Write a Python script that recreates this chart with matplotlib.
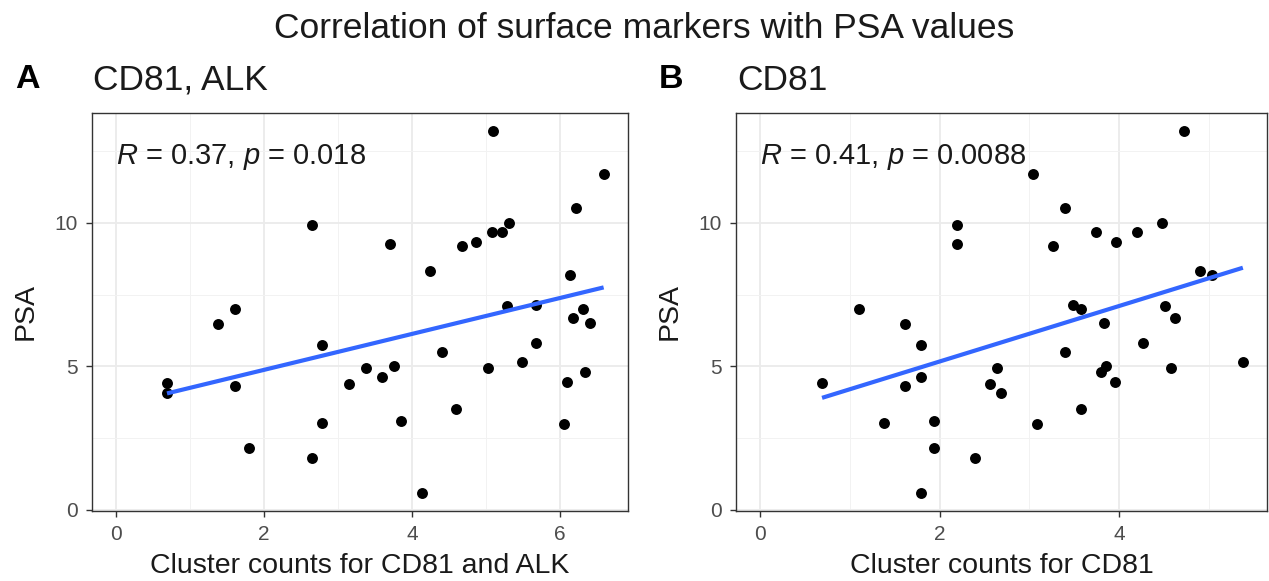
#!/usr/bin/env python3
"""Correlation of surface markers with PSA values (two scatter panels)."""

import numpy as np
import matplotlib
matplotlib.use("Agg")
import matplotlib.pyplot as plt
from matplotlib.ticker import MultipleLocator

# PSA value per sample (shared by both panels)
psa = [13.2, 11.7, 10.51, 10.0, 9.91, 9.67, 9.67, 9.33, 9.26, 9.19,
       8.32, 8.20, 7.13, 7.10, 7.01, 7.00, 6.69, 6.50, 6.46, 5.80,
       5.74, 5.51, 5.14, 5.00, 4.95, 4.93, 4.79, 4.64, 4.47, 4.43,
       4.40, 4.30, 4.07, 3.52, 3.09, 3.03, 3.00, 2.16, 1.79, 0.59]

# cluster counts for CD81 and ALK (panel A)
counts_cd81_alk = [5.10, 6.59, 6.21, 5.31, 2.64, 5.08, 5.22, 4.86, 3.70, 4.68,
                   4.24, 6.14, 5.68, 5.28, 1.60, 6.31, 6.18, 6.40, 1.38, 5.67,
                   2.78, 4.41, 5.48, 3.75, 5.02, 3.38, 6.34, 3.59, 6.10, 0.685,
                   3.14, 1.60, 0.685, 4.59, 3.85, 2.78, 6.05, 1.80, 2.64, 4.13]

# cluster counts for CD81 (panel B)
counts_cd81 = [4.72, 3.04, 3.40, 4.48, 2.19, 3.74, 4.20, 3.97, 2.19, 3.26,
               4.90, 5.04, 3.49, 4.51, 1.10, 3.58, 4.62, 3.83, 1.61, 4.27,
               1.79, 3.40, 5.38, 3.85, 4.58, 2.64, 3.80, 1.79, 3.95, 0.69,
               2.56, 1.61, 2.68, 3.58, 1.94, 1.38, 3.09, 1.94, 2.39, 1.79]

panel_tags = ["A", "B"]
panel_titles = ["CD81, ALK", "CD81"]
x_labels = ["Cluster counts for CD81 and ALK", "Cluster counts for CD81"]
cor_labels = ["$R$ = 0.37, $p$ = 0.018", "$R$ = 0.41, $p$ = 0.0088"]

W, H = 1269, 581

plt.rcParams.update({
    "font.family": ["Liberation Sans", "DejaVu Sans"],
    "mathtext.fontset": "custom",
    "mathtext.rm": "Liberation Sans",
    "mathtext.it": "Liberation Sans:italic",
})


def expand(lo, hi, frac=0.05):
    span = hi - lo
    return lo - frac * span, hi + frac * span


def draw_panel(ax, x, y, cor_text):
    x = np.asarray(x, dtype=float)
    y = np.asarray(y, dtype=float)

    ax.set_axisbelow(True)
    ax.xaxis.set_major_locator(MultipleLocator(2))
    ax.xaxis.set_minor_locator(MultipleLocator(1))
    ax.yaxis.set_major_locator(MultipleLocator(5))
    ax.yaxis.set_minor_locator(MultipleLocator(2.5))
    ax.grid(True, which="major", color="#EBEBEB", linewidth=1.3)
    ax.grid(True, which="minor", color="#F2F2F2", linewidth=0.7)
    ax.tick_params(which="minor", length=0)
    ax.tick_params(which="major", length=4, width=1.0, color="#333333",
                   labelcolor="#4D4D4D", labelsize=15, pad=6)

    ax.scatter(x, y, s=62, color="black", zorder=3, linewidths=0)

    slope, icpt = np.polyfit(x, y, 1)
    xs = np.array([x.min(), x.max()])
    ax.plot(xs, icpt + slope * xs, color="#3366FF", linewidth=3, zorder=4,
            solid_capstyle="butt")

    ax.set_xlim(*expand(0, x.max()))
    ax.set_ylim(*expand(y.min(), y.max()))

    for sp in ax.spines.values():
        sp.set_color("#333333")
        sp.set_linewidth(1.0)

    ax.text(0, 12.3, cor_text, ha="left", va="center", fontsize=21,
            color="#1A1A1A")


fig = plt.figure(figsize=(W / 100, H / 100), dpi=100)

boxes = [(92, 628), (736, 1267)]
top, bottom = 113, 511
xdata = [counts_cd81_alk, counts_cd81]

for i, (l, r) in enumerate(boxes):
    w_px = r - l
    h_px = bottom - top
    ax = fig.add_axes([l / W, 1 - bottom / H, w_px / W, h_px / H])
    draw_panel(ax, xdata[i], psa, cor_labels[i])

    ax.set_xlabel(x_labels[i], fontsize=20.5, color="#1A1A1A")
    ax.xaxis.set_label_coords(0.5, (bottom - 566) / h_px)
    ax.xaxis.label.set_va("center")
    ax.set_ylabel("PSA", fontsize=20.5, color="#1A1A1A")
    ax.yaxis.set_label_coords(-66 / w_px, 0.5)
    ax.yaxis.label.set_va("center")

    fig.text((l + 1) / W, 1 - 80 / H, panel_titles[i], ha="left", va="center",
             fontsize=25.5, color="#1A1A1A")
    fig.text((l - 77) / W, 1 - 80 / H, panel_tags[i], ha="left", va="center",
             fontsize=24.5, fontweight="bold")

fig.text(644 / W, 1 - 28 / H, "Correlation of surface markers with PSA values",
         ha="center", va="center", fontsize=25.5, color="#1A1A1A")

fig.savefig("out.png", dpi=100)
